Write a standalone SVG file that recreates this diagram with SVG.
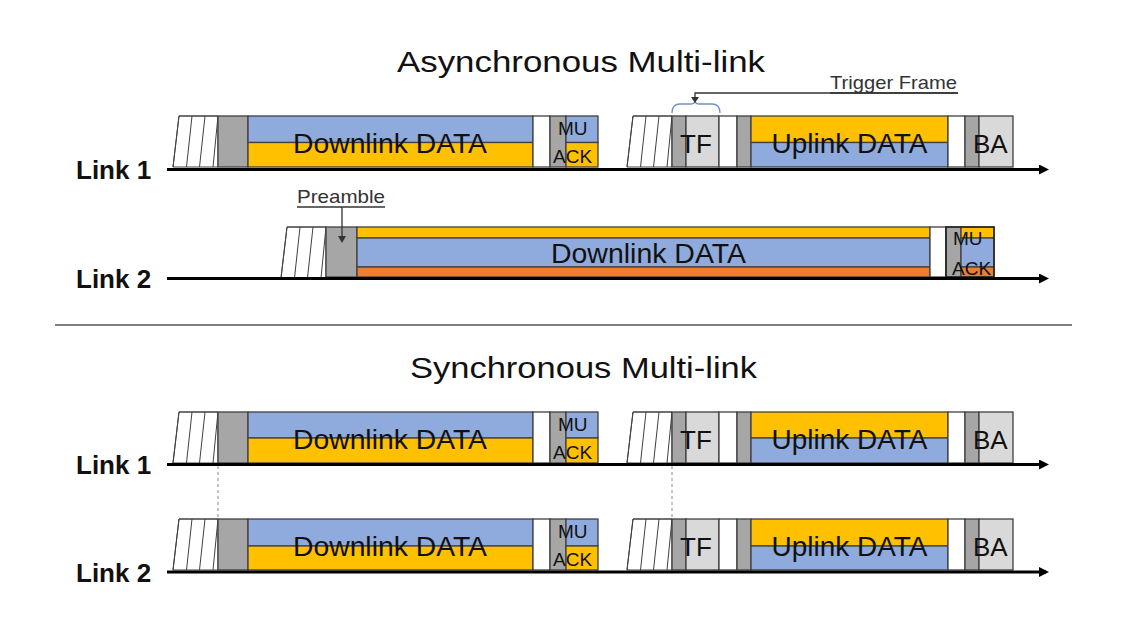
<svg xmlns="http://www.w3.org/2000/svg" width="1122" height="627" viewBox="0 0 1122 627">
<style>
text{font-family:"Liberation Sans",Arial,sans-serif;fill:#111}
.title{font-size:30px}
.link{font-size:26px;font-weight:bold}
.data{font-size:27px;text-anchor:middle}
.small{font-size:19px}
.lbl{font-size:19px;fill:#333}
.box{stroke:#404040;stroke-width:1.3}
.blue{fill:#8FAADC}
.yel{fill:#FFC000}
.org{fill:#ED7D31}
.g{fill:#A6A6A6}
.lg{fill:#D9D9D9}
.w{fill:#FFFFFF}
.axis{stroke:#000;stroke-width:3;fill:none}
.hatch{stroke:#404040;stroke-width:1;fill:#fff}
.dash{stroke:#888;stroke-width:1;stroke-dasharray:3 3}
</style>
<defs>
<marker id="arr" markerWidth="10" markerHeight="10" refX="7" refY="5" orient="auto" markerUnits="userSpaceOnUse">
<path d="M0,0 L10,5 L0,10 Z" fill="#000"/>
</marker>
<marker id="sarr" markerWidth="6" markerHeight="6" refX="3" refY="5" orient="auto" markerUnits="userSpaceOnUse">
<path d="M0,0 L6,0 L3,6 Z" fill="#333" transform="rotate(-90 3 3)"/>
</marker>
<g id="hatch">
<path class="hatch" d="M6,0 H45 V51 H0 Z" stroke="none"/>
<path class="hatch" fill="none" d="M6,0 H45 M6,0 L0,51 M19,0 L13.5,51 M32,0 L26.5,51 M45,0 L40,51"/>
</g>
</defs>

<text class="title" x="397" y="72" textLength="368" lengthAdjust="spacingAndGlyphs">Asynchronous Multi-link</text>
<text class="title" x="410" y="378" textLength="347" lengthAdjust="spacingAndGlyphs">Synchronous Multi-link</text>
<line x1="55" y1="325" x2="1072" y2="325" stroke="#7F7F7F" stroke-width="2"/>

<!-- Async Link 1 -->
<g id="async-link1">
<text class="link" x="76" y="179">Link 1</text>
<use href="#hatch" x="173" y="116"/>
<rect class="box g" x="218" y="116" width="30" height="51"/>
<rect class="box blue" x="248" y="116" width="285" height="26.5"/>
<rect class="box yel" x="248" y="142.5" width="285" height="24.5"/>
<text class="data" x="390" y="153" textLength="194" lengthAdjust="spacingAndGlyphs">Downlink DATA</text>
<rect class="box w" x="533" y="116" width="17" height="51"/>
<rect class="box g" x="550" y="116" width="16" height="51"/>
<rect class="box blue" x="566" y="116" width="32" height="26.5"/>
<rect class="box yel" x="566" y="142.5" width="32" height="24.5"/>
<text class="small" x="558" y="135">MU</text>
<text class="small" x="553" y="163">ACK</text>
<use href="#hatch" x="627" y="116"/>
<rect class="box g" x="672" y="116" width="14" height="51"/>
<rect class="box lg" x="686" y="116" width="33" height="51"/>
<text class="small" x="680" y="153" style="font-size:26px">TF</text>
<rect class="box w" x="719" y="116" width="18" height="51"/>
<rect class="box g" x="737" y="116" width="14" height="51"/>
<rect class="box yel" x="751" y="116" width="197" height="26.5"/>
<rect class="box blue" x="751" y="142.5" width="197" height="24.5"/>
<text class="data" x="849.5" y="153" textLength="156" lengthAdjust="spacingAndGlyphs">Uplink DATA</text>
<rect class="box w" x="948" y="116" width="17" height="51"/>
<rect class="box g" x="965" y="116" width="14" height="51"/>
<rect class="box lg" x="979" y="116" width="34" height="51"/>
<text class="small" x="973" y="153" style="font-size:26px">BA</text>
</g>

<!-- Async Link 2 -->
<g id="async-link2">
<text class="link" x="76" y="288">Link 2</text>
<use href="#hatch" x="281" y="227" transform="translate(0,0)"/>
<rect class="box g" x="326" y="227" width="31" height="50"/>
<rect class="box yel" x="357" y="227" width="573" height="11"/>
<rect class="box blue" x="357" y="238" width="573" height="29"/>
<rect class="box org" x="357" y="267" width="573" height="10"/>
<text class="data" x="648.5" y="263" textLength="195" lengthAdjust="spacingAndGlyphs">Downlink DATA</text>
<rect class="box w" x="930" y="227" width="16" height="50"/>
<rect class="box g" x="946" y="227" width="15" height="50"/>
<rect class="box yel" x="961" y="227" width="33" height="11"/>
<rect class="box blue" x="961" y="238" width="33" height="29"/>
<rect class="box org" x="961" y="267" width="33" height="10"/>
<rect x="946" y="227" width="48" height="50" fill="none" stroke="#222" stroke-width="1.5"/>
<text class="small" x="953" y="245">MU</text>
<text class="small" x="952" y="275">ACK</text>
</g>

<!-- Sync Link 1 -->
<g id="sync-link1">
<text class="link" x="76" y="474">Link 1</text>
<use href="#hatch" x="173" y="412"/>
<rect class="box g" x="218" y="412" width="30" height="51"/>
<rect class="box blue" x="248" y="412" width="285" height="26"/>
<rect class="box yel" x="248" y="438" width="285" height="25"/>
<text class="data" x="390" y="449" textLength="194" lengthAdjust="spacingAndGlyphs">Downlink DATA</text>
<rect class="box w" x="533" y="412" width="17" height="51"/>
<rect class="box g" x="550" y="412" width="16" height="51"/>
<rect class="box blue" x="566" y="412" width="32" height="26"/>
<rect class="box yel" x="566" y="438" width="32" height="25"/>
<text class="small" x="558" y="431">MU</text>
<text class="small" x="553" y="459">ACK</text>
<use href="#hatch" x="627" y="412"/>
<rect class="box g" x="672" y="412" width="14" height="51"/>
<rect class="box lg" x="686" y="412" width="33" height="51"/>
<text class="small" x="680" y="449" style="font-size:26px">TF</text>
<rect class="box w" x="719" y="412" width="18" height="51"/>
<rect class="box g" x="737" y="412" width="14" height="51"/>
<rect class="box yel" x="751" y="412" width="197" height="26"/>
<rect class="box blue" x="751" y="438" width="197" height="25"/>
<text class="data" x="849.5" y="449" textLength="156" lengthAdjust="spacingAndGlyphs">Uplink DATA</text>
<rect class="box w" x="948" y="412" width="17" height="51"/>
<rect class="box g" x="965" y="412" width="14" height="51"/>
<rect class="box lg" x="979" y="412" width="34" height="51"/>
<text class="small" x="973" y="449" style="font-size:26px">BA</text>
</g>

<!-- Sync Link 2 -->
<g id="sync-link2">
<text class="link" x="76" y="582">Link 2</text>
<use href="#hatch" x="173" y="519"/>
<rect class="box g" x="218" y="519" width="30" height="51"/>
<rect class="box blue" x="248" y="519" width="285" height="27"/>
<rect class="box yel" x="248" y="546" width="285" height="24"/>
<text class="data" x="390" y="556" textLength="194" lengthAdjust="spacingAndGlyphs">Downlink DATA</text>
<rect class="box w" x="533" y="519" width="17" height="51"/>
<rect class="box g" x="550" y="519" width="16" height="51"/>
<rect class="box blue" x="566" y="519" width="32" height="27"/>
<rect class="box yel" x="566" y="546" width="32" height="24"/>
<text class="small" x="558" y="538">MU</text>
<text class="small" x="553" y="566">ACK</text>
<use href="#hatch" x="627" y="519"/>
<rect class="box g" x="672" y="519" width="14" height="51"/>
<rect class="box lg" x="686" y="519" width="33" height="51"/>
<text class="small" x="680" y="556" style="font-size:26px">TF</text>
<rect class="box w" x="719" y="519" width="18" height="51"/>
<rect class="box g" x="737" y="519" width="14" height="51"/>
<rect class="box yel" x="751" y="519" width="197" height="27"/>
<rect class="box blue" x="751" y="546" width="197" height="24"/>
<text class="data" x="849.5" y="556" textLength="156" lengthAdjust="spacingAndGlyphs">Uplink DATA</text>
<rect class="box w" x="948" y="519" width="17" height="51"/>
<rect class="box g" x="965" y="519" width="14" height="51"/>
<rect class="box lg" x="979" y="519" width="34" height="51"/>
<text class="small" x="973" y="556" style="font-size:26px">BA</text>
</g>

<!-- Annotations -->
<g id="trigger-frame-label">
<text class="lbl" x="830" y="89" textLength="127" lengthAdjust="spacingAndGlyphs">Trigger Frame</text>
<line x1="830" y1="93" x2="958" y2="93" stroke="#333" stroke-width="1.3"/>
<path d="M672,113 Q672,104 680,104 L690,104 Q695,104 695,101 Q695,104 700,104 L712,104 Q720,104 720,113" fill="none" stroke="#6F8FCF" stroke-width="1.3"/>
</g>
<g id="preamble-label">
<text class="lbl" x="297" y="203" textLength="88" lengthAdjust="spacingAndGlyphs">Preamble</text>
<line x1="297" y1="207" x2="385" y2="207" stroke="#333" stroke-width="1.3"/>
</g>

<g id="connectors">
<line class="axis" x1="167" y1="169.5" x2="1046" y2="169.5" marker-end="url(#arr)"/>
<line class="axis" x1="167" y1="278.5" x2="1046" y2="278.5" marker-end="url(#arr)"/>
<line class="axis" x1="167" y1="464.5" x2="1046" y2="464.5" marker-end="url(#arr)"/>
<line class="axis" x1="167" y1="572" x2="1046" y2="572" marker-end="url(#arr)"/>
<line class="dash" x1="218" y1="466" x2="218" y2="518"/>
<line class="dash" x1="672" y1="466" x2="672" y2="518"/>
<path d="M958,93 H695 V98" fill="none" stroke="#333" stroke-width="1.3"/>
<path d="M691,97 L699,97 L695,103 Z" fill="#333"/>
<path d="M342,207 V237" fill="none" stroke="#333" stroke-width="1.3"/>
<path d="M338,236 L346,236 L342,243 Z" fill="#333"/>
</g>
</svg>
